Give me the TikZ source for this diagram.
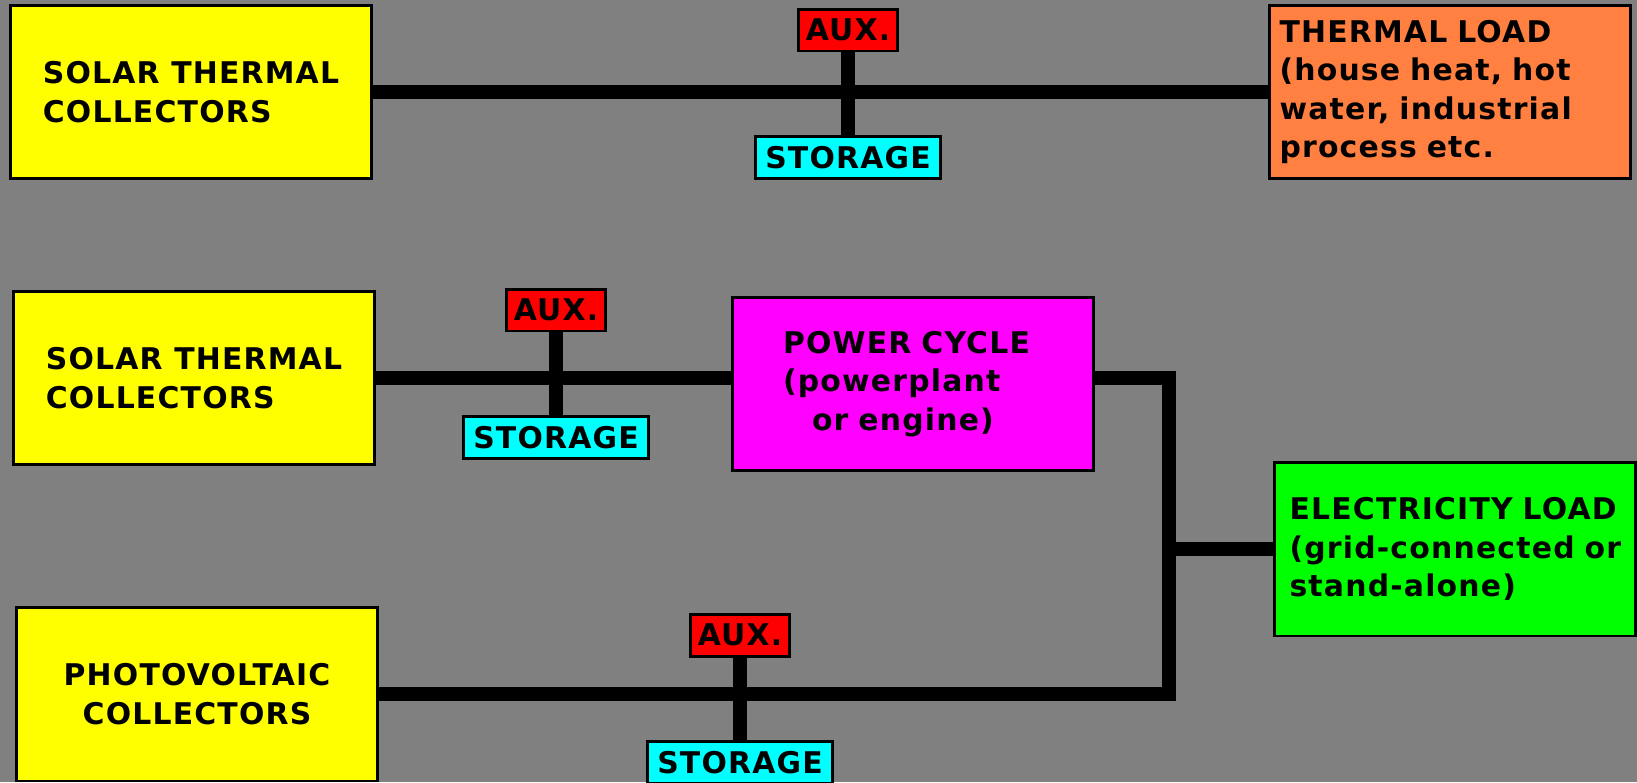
\documentclass[tikz,border=0pt]{standalone}
\usepackage{fontspec}
\setmainfont{DejaVu Sans}[LetterSpace=4]
\usepackage{xcolor}
\usepackage{tikz}
\usetikzlibrary{positioning}
\definecolor{bggrey}{RGB}{128,128,128}
\definecolor{solyellow}{RGB}{255,255,0}
\definecolor{loadorange}{RGB}{255,128,64}
\definecolor{auxred}{RGB}{255,0,0}
\definecolor{stocyan}{RGB}{0,255,255}
\definecolor{cyclemag}{RGB}{255,0,255}
\definecolor{elecgreen}{RGB}{0,255,0}

\begin{document}
\begin{tikzpicture}[x=0.02cm, y=-0.02cm,
  every node/.style={font=\bfseries\fontsize{17}{22}\selectfont, text=black},
  big/.style={rectangle, draw=black, line width=1.7pt, minimum width=7.24cm,
              minimum height=3.48cm, inner xsep=0pt, inner ysep=0pt},
  src/.style={big, fill=solyellow, align=left},
  small/.style={rectangle, draw=black, line width=1.7pt, minimum height=0.84cm,
                inner sep=0pt},
  aux/.style={small, fill=auxred, minimum width=1.98cm},
  sto/.style={small, fill=stocyan, minimum width=3.72cm},
  bus/.style={line width=0.28cm, color=black},
]

\useasboundingbox (0,0) rectangle (1637,782);
\clip (0,0) rectangle (1637,782);
\fill[bggrey] (0,0) rectangle (1637,782);

% ── Top: thermal system ──
\node[src] (stc1) at (191,92) {SOLAR THERMAL\\COLLECTORS};
\node[big, fill=loadorange, align=left, text width=6.82cm] (tload) at (1450,92)
  {THERMAL LOAD\\(house heat, hot\\water, industrial\\process etc.};
\node[aux] (aux1) at (848,30) {AUX.};
\node[sto, below=1.66cm of aux1] (sto1) {STORAGE};
\draw[bus] (stc1.east) -- (tload.west);
\draw[bus] (aux1.south) -- (sto1.north);

% ── Middle: power cycle ──
\node[src] (stc2) at (194,378) {SOLAR THERMAL\\COLLECTORS};
\node[big, fill=cyclemag, align=left, text width=5.2cm] (pcyc) at (913,384)
  {POWER CYCLE\\(powerplant\\\hspace*{0.58cm}or engine)};
\node[aux] (aux2) at (556,310) {AUX.};
\node[sto, below=1.66cm of aux2] (sto2) {STORAGE};
\draw[bus] (stc2.east) -- (stc2.east -| pcyc.west);
\draw[bus] (aux2.south) -- (sto2.north);

% ── Bottom: photovoltaic ──
\node[big, fill=solyellow, align=center] (pv) at (197,694) {PHOTOVOLTAIC\\COLLECTORS};
\node[aux] (aux3) at (740,635) {AUX.};
\node[sto, below=1.66cm of aux3] (sto3) {STORAGE};
\draw[bus] (aux3.south) -- (sto3.north);

% ── Right: electricity load ──
\node[big, fill=elecgreen, align=left, text width=6.62cm] (eload) at (1455,549)
  {ELECTRICITY LOAD\\(grid-connected or\\stand-alone)};
\coordinate (jct) at (1169,694);
\draw[bus] (stc2.east -| pcyc.east) -| (jct) -- (pv.east);
\draw[bus] (eload.west) -- (eload.west -| jct);

\end{tikzpicture}
\end{document}
